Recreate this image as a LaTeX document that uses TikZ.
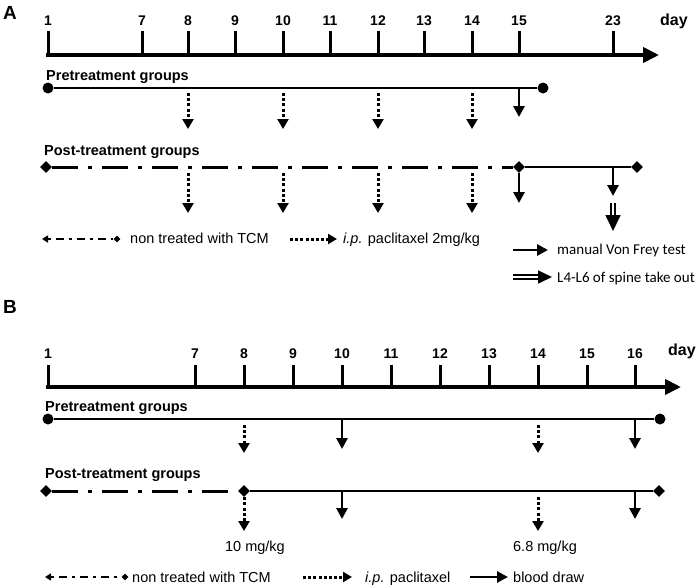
\documentclass[tikz,border=0pt]{standalone}
\usepackage{fontspec}
\setmainfont{Liberation Sans}
\newfontfamily\testfont{Carlito}
\usetikzlibrary{arrows.meta}
\usetikzlibrary{shapes.geometric}

\begin{document}
\begin{tikzpicture}[x=1pt,y=-1pt,axis/.style={line width=3.8pt,-{Triangle[width=15pt,length=16pt]}},tick/.style={line width=3pt},daylabel/.style={font=\fontsize{14}{14}\selectfont\bfseries,anchor=base,inner sep=0},unitlabel/.style={font=\fontsize{16}{16}\selectfont\bfseries,anchor=base west,inner sep=0},panel/.style={font=\fontsize{19}{19}\selectfont\bfseries,anchor=base west,inner sep=0},grouplabel/.style={font=\fontsize{14.5}{14.5}\selectfont\bfseries,anchor=base west,inner sep=0},legtext/.style={font=\fontsize{14.5}{14.5}\selectfont,anchor=base west,inner sep=0},testtext/.style={font=\fontsize{15}{15}\selectfont\testfont,anchor=base west,inner sep=0},dose/.style={font=\fontsize{14.5}{14.5}\selectfont,anchor=base,inner sep=0},group/.style={line width=2.8pt},nontreated/.style={line width=3pt,dash pattern=on 26pt off 10pt on 4pt off 10pt},legdash/.style={line width=2.2pt,dash pattern=on 3pt off 5pt on 8pt off 5pt,{Triangle[width=7pt,length=6pt]}-},drug/.style={line width=3pt,dash pattern=on 3pt off 2.2pt,-{Triangle[width=11pt,length=10pt]}},test/.style={line width=2.8pt,-{Triangle[width=11pt,length=11pt]}},takeout/.style={double,double distance=2.5pt,line width=1.7pt,-{Triangle[width=15pt,length=16pt]}},dot/.style={circle,fill,inner sep=0,minimum size=11pt},gem/.style={diamond,fill,inner sep=0,minimum size=12pt}]
  \useasboundingbox (0,0) rectangle (699,587);
  % panel A
  \node[panel] (pa) at (3,19) {A};
  \coordinate (axA0) at (46,55);
  \coordinate (axA1) at (659,55);
  \draw[axis] (axA0) -- (axA1);
  \draw[tick] (48,56) coordinate (tA1) -- ++(0,-25) node[daylabel,above=4pt] (dA1) {1};
  \draw[tick] (142,56) coordinate (tA7) -- ++(0,-25) node[daylabel,above=4pt] (dA7) {7};
  \draw[tick] (188,56) coordinate (tA8) -- ++(0,-25) node[daylabel,above=4pt] (dA8) {8};
  \draw[tick] (235,56) coordinate (tA9) -- ++(0,-25) node[daylabel,above=4pt] (dA9) {9};
  \draw[tick] (283,56) coordinate (tA10) -- ++(0,-25) node[daylabel,above=4pt] (dA10) {10};
  \draw[tick] (330,56) coordinate (tA11) -- ++(0,-25) node[daylabel,above=4pt] (dA11) {11};
  \draw[tick] (378,56) coordinate (tA12) -- ++(0,-25) node[daylabel,above=4pt] (dA12) {12};
  \draw[tick] (424,56) coordinate (tA13) -- ++(0,-25) node[daylabel,above=4pt] (dA13) {13};
  \draw[tick] (472,56) coordinate (tA14) -- ++(0,-25) node[daylabel,above=4pt] (dA14) {14};
  \draw[tick] (519,56) coordinate (tA15) -- ++(0,-25) node[daylabel,above=4pt] (dA15) {15};
  \draw[tick] (613,56) coordinate (tA23) -- ++(0,-25) node[daylabel,above=4pt] (dA23) {23};
  \node[unitlabel] (uA) at (660,25) {day};
  \node[grouplabel] (gA1) at (46,80) {Pretreatment groups};
  \node[dot] (pA0) at (48,88) {};
  \node[dot] (pA1) at (543,88) {};
  \draw[group] (pA0) -- (pA1);
  \draw[drug] (188,93) coordinate (rA8) -- (188,129) coordinate (rA8e);
  \draw[drug] (283,93) coordinate (rA10) -- (283,129) coordinate (rA10e);
  \draw[drug] (378,93) coordinate (rA12) -- (378,129) coordinate (rA12e);
  \draw[drug] (472,93) coordinate (rA14) -- (472,129) coordinate (rA14e);
  \draw[test] (519,88) coordinate (vA15) -- (519,117) coordinate (vA15e);
  \node[grouplabel] (gA2) at (44,155) {Post-treatment groups};
  \node[gem] (qA0) at (46,167) {};
  \node[gem] (qA1) at (519,167) {};
  \node[gem] (qA2) at (637,167) {};
  \draw[nontreated] (qA0) -- (qA1);
  \draw[group] (qA1) -- (qA2);
  \draw[drug] (188,173) coordinate (sA8) -- (188,213) coordinate (sA8e);
  \draw[drug] (283,173) coordinate (sA10) -- (283,213) coordinate (sA10e);
  \draw[drug] (378,173) coordinate (sA12) -- (378,213) coordinate (sA12e);
  \draw[drug] (472,173) coordinate (sA14) -- (472,213) coordinate (sA14e);
  \draw[test] (qA1) -- (519,203) coordinate (wA15e);
  \draw[test] (613,167) coordinate (wA23) -- (613,196) coordinate (wA23e);
  \draw[takeout] (613,203) coordinate (xA23) -- (613,231) coordinate (xA23e);
  % legend A
  \coordinate (kA0) at (42,239);
  \node[gem,minimum size=7pt] (kA1) at (117,239) {};
  \draw[legdash] (kA0) -- (kA1);
  \node[legtext] (lA1) at (130,243) {non treated with TCM};
  \coordinate (kA2) at (290,239);
  \draw[drug,-{Triangle[width=10pt,length=9pt]}] (kA2) -- ++(47,0) coordinate (kA3);
  \node[legtext] (lA2) at (343,243) {\textit{i.p.} paclitaxel 2mg/kg};
  \coordinate (kA4) at (513,250);
  \draw[test] (kA4) -- ++(35,0) coordinate (kA5);
  \node[testtext] (lA3) at (557,254) {manual Von Frey test};
  \coordinate (kA6) at (513,277);
  \draw[takeout,-{Triangle[width=13pt,length=14pt]}] (kA6) -- ++(39,0) coordinate (kA7);
  \node[testtext] (lA4) at (557,282) {L4-L6 of spine take out};
  % panel B
  \node[panel] (pb) at (3,313) {B};
  \coordinate (axB0) at (46,387);
  \coordinate (axB1) at (681,387);
  \draw[axis] (axB0) -- (axB1);
  \draw[tick] (48,388) coordinate (tB1) -- ++(0,-23) node[daylabel,above=5pt] (dB1) {1};
  \draw[tick] (195,388) coordinate (tB7) -- ++(0,-23) node[daylabel,above=5pt] (dB7) {7};
  \draw[tick] (244,388) coordinate (tB8) -- ++(0,-23) node[daylabel,above=5pt] (dB8) {8};
  \draw[tick] (293,388) coordinate (tB9) -- ++(0,-23) node[daylabel,above=5pt] (dB9) {9};
  \draw[tick] (342,388) coordinate (tB10) -- ++(0,-23) node[daylabel,above=5pt] (dB10) {10};
  \draw[tick] (391,388) coordinate (tB11) -- ++(0,-23) node[daylabel,above=5pt] (dB11) {11};
  \draw[tick] (440,388) coordinate (tB12) -- ++(0,-23) node[daylabel,above=5pt] (dB12) {12};
  \draw[tick] (489,388) coordinate (tB13) -- ++(0,-23) node[daylabel,above=5pt] (dB13) {13};
  \draw[tick] (538,388) coordinate (tB14) -- ++(0,-23) node[daylabel,above=5pt] (dB14) {14};
  \draw[tick] (587,388) coordinate (tB15) -- ++(0,-23) node[daylabel,above=5pt] (dB15) {15};
  \draw[tick] (635,388) coordinate (tB16) -- ++(0,-23) node[daylabel,above=5pt] (dB16) {16};
  \node[unitlabel] (uB) at (668,355) {day};
  \node[grouplabel] (gB1) at (45,411) {Pretreatment groups};
  \node[dot] (pB0) at (48,419) {};
  \node[dot] (pB1) at (660,419) {};
  \draw[group] (pB0) -- (pB1);
  \draw[drug] (244,425) coordinate (rB8) -- (244,453) coordinate (rB8e);
  \draw[test] (342,419) coordinate (vB10) -- (342,449) coordinate (vB10e);
  \draw[drug] (538,425) coordinate (rB14) -- (538,453) coordinate (rB14e);
  \draw[test] (635,419) coordinate (vB16) -- (635,449) coordinate (vB16e);
  \node[grouplabel] (gB2) at (45,478) {Post-treatment groups};
  \node[gem] (qB0) at (46,491) {};
  \node[gem] (qB1) at (244,491) {};
  \node[gem] (qB2) at (659,491) {};
  \draw[nontreated] (qB0) -- (qB1);
  \draw[group] (qB1) -- (qB2);
  \draw[drug] (qB1) -- (244,531) coordinate (sB8e);
  \draw[test] (342,491) coordinate (wB10) -- (342,519) coordinate (wB10e);
  \draw[drug] (538,497) coordinate (sB14) -- (538,531) coordinate (sB14e);
  \draw[test] (635,491) coordinate (wB16) -- (635,519) coordinate (wB16e);
  \node[dose] (mB8) at (255,551) {10 mg/kg};
  \node[dose] (mB14) at (545,551) {6.8 mg/kg};
  % legend B
  \coordinate (kB0) at (45,577);
  \node[gem,minimum size=7pt] (kB1) at (125,577) {};
  \draw[legdash] (kB0) -- (kB1);
  \node[legtext] (lB1) at (132,582) {non treated with TCM};
  \coordinate (kB2) at (303,577);
  \draw[drug,-{Triangle[width=10pt,length=9pt]}] (kB2) -- ++(49,0) coordinate (kB3);
  \node[legtext] (lB2) at (365,582) {\textit{i.p.} paclitaxel};
  \coordinate (kB4) at (470,577);
  \draw[test] (kB4) -- ++(38,0) coordinate (kB5);
  \node[legtext] (lB3) at (513,582) {blood draw};
\end{tikzpicture}
\end{document}
